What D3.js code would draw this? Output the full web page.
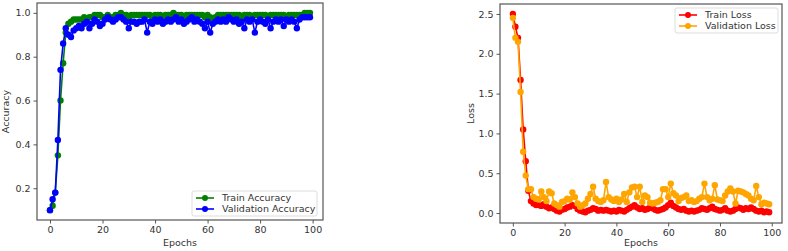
<!DOCTYPE html>
<html>
<head>
<meta charset="utf-8">
<script src="https://cdn.jsdelivr.net/npm/d3@7"></script>
<style>
  body { margin: 0; background: #fff; }
  svg text { font-family: "DejaVu Sans", sans-serif; fill: #333; }
</style>
</head>
<body>
<svg id="chart" width="788" height="251"></svg>
<script>
// Values, one per epoch (0..99)
var trainAcc = [0.10,0.12,0.18,0.35,0.60,0.77,0.91,0.95,0.96,0.97, 0.97,0.97,0.97,0.98,0.97,0.98,0.98,0.99,0.99,0.99,
  0.98,0.98,0.99,0.98,0.98,0.99,0.99,1.00,0.99,0.99, 0.98,0.99,0.99,0.99,0.99,0.99,0.99,0.99,0.99,0.98,
  0.99,0.99,0.99,0.98,0.99,0.99,0.99,1.00,0.99,0.99, 0.99,0.98,0.99,0.99,0.99,0.99,0.99,0.99,0.99,0.98,
  0.99,0.98,0.975,0.98,0.99,0.99,0.99,0.99,0.99,0.99, 0.99,0.99,0.99,0.98,0.99,0.99,0.99,0.98,0.99,0.99,
  0.99,0.99,0.99,0.98,0.99,0.99,0.99,0.99,0.99,0.99, 0.98,0.99,0.99,0.99,0.99,0.99,0.99,1.00,1.00,1.00];
var valAcc = [0.10,0.15,0.18,0.42,0.74,0.86,0.93,0.90,0.89,0.92, 0.93,0.94,0.93,0.95,0.96,0.93,0.95,0.97,0.96,0.94,
  0.95,0.97,0.98,0.97,0.96,0.97,0.98,0.98,0.97,0.96, 0.93,0.96,0.96,0.95,0.96,0.96,0.97,0.91,0.96,0.95,
  0.97,0.96,0.97,0.95,0.96,0.97,0.96,0.97,0.98,0.96, 0.97,0.95,0.96,0.97,0.98,0.96,0.97,0.96,0.95,0.93,
  0.96,0.91,0.95,0.96,0.97,0.96,0.97,0.96,0.98,0.97, 0.96,0.97,0.95,0.96,0.93,0.97,0.96,0.97,0.91,0.96,
  0.97,0.96,0.95,0.97,0.93,0.96,0.97,0.96,0.97,0.94, 0.97,0.96,0.97,0.96,0.93,0.97,0.98,0.98,0.98,0.98];
var trainLoss = [2.50,2.34,2.20,1.67,1.05,0.65,0.28,0.15,0.12,0.10, 0.10,0.09,0.11,0.08,0.06,0.07,0.05,0.03,0.02,0.04,
  0.05,0.07,0.08,0.10,0.09,0.05,0.03,0.02,0.01,0.03, 0.04,0.06,0.05,0.03,0.04,0.03,0.04,0.03,0.02,0.03,
  0.02,0.04,0.03,0.02,0.04,0.06,0.08,0.10,0.07,0.05, 0.06,0.04,0.05,0.07,0.06,0.04,0.03,0.04,0.05,0.07,
  0.10,0.13,0.09,0.07,0.05,0.04,0.05,0.03,0.02,0.03, 0.02,0.03,0.04,0.06,0.05,0.04,0.06,0.08,0.05,0.04,
  0.03,0.04,0.06,0.03,0.02,0.03,0.05,0.07,0.06,0.04, 0.06,0.05,0.07,0.05,0.03,0.02,0.03,0.01,0.02,0.01];
var valLoss = [2.45,2.20,2.15,1.52,0.77,0.47,0.30,0.30,0.20,0.18, 0.17,0.27,0.20,0.15,0.27,0.25,0.12,0.10,0.08,0.14,
  0.15,0.18,0.17,0.26,0.20,0.12,0.08,0.10,0.12,0.18, 0.24,0.33,0.18,0.15,0.14,0.16,0.39,0.20,0.17,0.15,
  0.18,0.14,0.17,0.24,0.14,0.26,0.32,0.33,0.20,0.33, 0.14,0.22,0.20,0.13,0.12,0.13,0.14,0.16,0.30,0.30,
  0.20,0.37,0.25,0.22,0.15,0.19,0.20,0.22,0.15,0.16, 0.14,0.15,0.18,0.20,0.37,0.20,0.16,0.18,0.35,0.17,
  0.16,0.15,0.22,0.27,0.31,0.27,0.12,0.28,0.27,0.26, 0.24,0.22,0.18,0.16,0.34,0.20,0.11,0.13,0.12,0.11];

var xTicks = [0, 20, 40, 60, 80, 100];
var accTicks = [0.2, 0.4, 0.6, 0.8, 1.0];
var lossTicks = [0.0, 0.5, 1.0, 1.5, 2.0, 2.5];

var svg = d3.select("#chart");

// one panel = spines, ticks, two series, legend
function panel(opt) {
  var x = d3.scaleLinear().domain([-4.95, 103.95]).range([opt.left, opt.right]);
  var y = d3.scaleLinear().domain(opt.ydomain).range([opt.bottom, opt.top]);
  var g = svg.append("g");

  var xa = g.append("g").attr("transform", "translate(0," + opt.bottom + ")")
    .call(d3.axisBottom(x).tickValues(xTicks).tickSize(3.5).tickPadding(3).tickFormat(d3.format("d")));
  var ya = g.append("g").attr("transform", "translate(" + opt.left + ",0)")
    .call(d3.axisLeft(y).tickValues(opt.yticks).tickSize(3.5).tickPadding(3).tickFormat(d3.format(".1f")));
  [xa, ya].forEach(function (a) {
    a.select(".domain").remove();
    a.selectAll("line").attr("stroke", "#555");
    a.selectAll("text").style("font-size", "9.5px").attr("fill", "#333");
  });

  // spines
  g.append("rect").attr("x", opt.left).attr("y", opt.top)
    .attr("width", opt.right - opt.left).attr("height", opt.bottom - opt.top)
    .attr("fill", "none").attr("stroke", "#555").attr("stroke-width", 1.2);

  var line = d3.line().x(function (d, i) { return x(i); }).y(function (d) { return y(d); });
  opt.series.forEach(function (s) {
    g.append("path").datum(s.values).attr("d", line)
      .attr("fill", "none").attr("stroke", s.color).attr("stroke-width", 1.6);
    g.selectAll(null).data(s.values).enter().append("circle")
      .attr("cx", function (d, i) { return x(i); })
      .attr("cy", function (d) { return y(d); })
      .attr("r", 3.2).attr("fill", s.color);
  });

  // axis labels
  g.append("text").attr("x", (opt.left + opt.right) / 2).attr("y", 246)
    .attr("text-anchor", "middle").style("font-size", "9.5px").text("Epochs");
  g.append("text").attr("transform", "translate(" + opt.ylabelX + "," + ((opt.top + opt.bottom) / 2) + ")rotate(-90)")
    .attr("text-anchor", "middle").style("font-size", "9.5px").text(opt.ylabel);

  // legend
  var L = opt.legend;
  g.append("rect").attr("x", L.x).attr("y", L.y).attr("width", L.w).attr("height", 25)
    .attr("rx", 2).attr("fill", "#fff").attr("fill-opacity", 0.8)
    .attr("stroke", "#ddd").attr("stroke-width", 1);
  opt.series.forEach(function (s, i) {
    var cy = L.y + 7 + i * 11;
    g.append("line").attr("x1", L.x + 4).attr("x2", L.x + 22).attr("y1", cy).attr("y2", cy)
      .attr("stroke", s.color).attr("stroke-width", 1.6);
    g.append("circle").attr("cx", L.x + 13).attr("cy", cy).attr("r", 3).attr("fill", s.color);
    g.append("text").attr("x", L.x + 30).attr("y", cy + 3.3).style("font-size", "9.5px").text(s.name);
  });
}

panel({
  left: 37, right: 323, top: 3, bottom: 220,
  ydomain: [0.055, 1.045], yticks: accTicks, ylabel: "Accuracy", ylabelX: 9,
  series: [
    { name: "Train Accuracy", values: trainAcc, color: "green" },
    { name: "Validation Accuracy", values: valAcc, color: "blue" }
  ],
  legend: { x: 192, y: 191, w: 125 }
});

panel({
  left: 500, right: 782, top: 4, bottom: 223,
  ydomain: [-0.125, 2.625], yticks: lossTicks, ylabel: "Loss", ylabelX: 474,
  series: [
    { name: "Train Loss", values: trainLoss, color: "red" },
    { name: "Validation Loss", values: valLoss, color: "orange" }
  ],
  legend: { x: 675, y: 8, w: 103 }
});
</script>
</body>
</html>
